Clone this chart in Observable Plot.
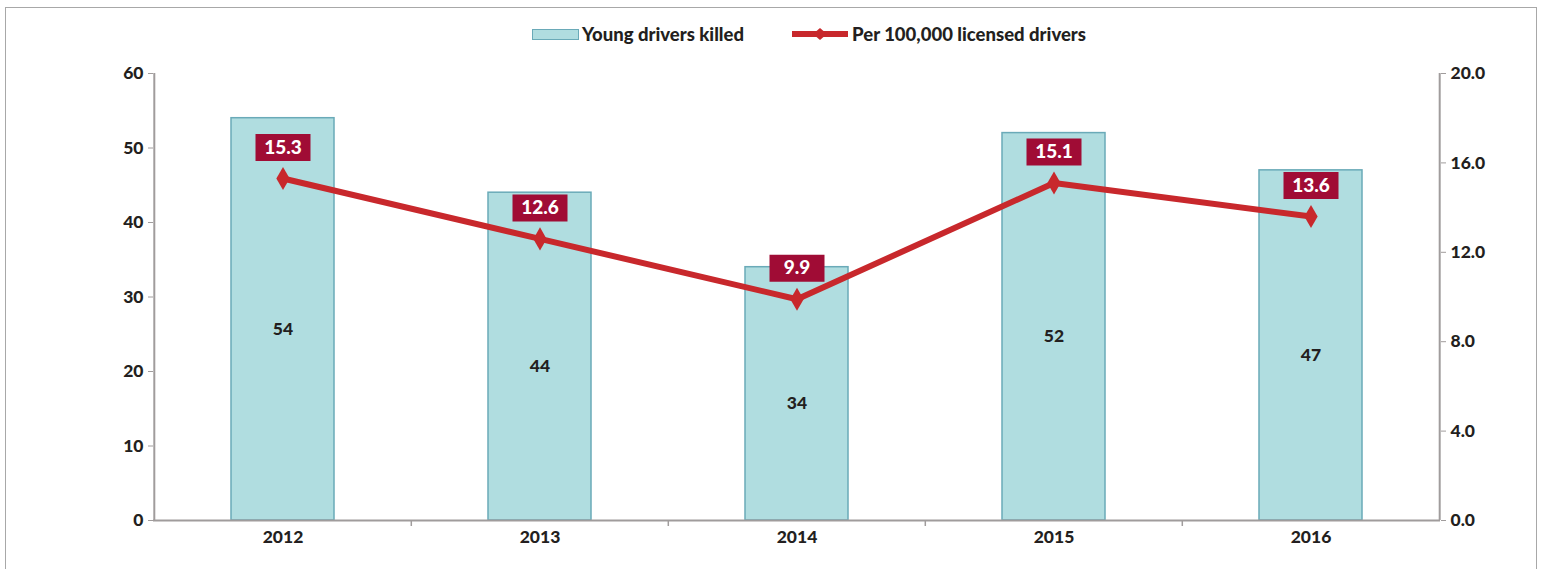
<!DOCTYPE html>
<html>
<head>
<meta charset="utf-8">
<script src="https://cdn.jsdelivr.net/npm/d3@7"></script>
<script src="https://cdn.jsdelivr.net/npm/@observablehq/plot@0.6"></script>
<style>
  html, body { margin: 0; padding: 0; background: #fff; }
  body { width: 1543px; height: 569px; overflow: hidden; position: relative; font-family: Lato, "Open Sans", sans-serif; }
  #frame { position: absolute; left: 5px; top: 7px; width: 1532px; height: 600px; border: 1.5px solid #a8a8a8; box-sizing: border-box; pointer-events: none; z-index: 5; }
  #legend { height: 53px; display: flex; justify-content: center; align-items: flex-start; padding-left: 75px; box-sizing: border-box; font-weight: 900; font-size: 18.5px; color: #231f20; }
  .item { display: flex; align-items: center; margin-top: 23px; }
  .sw-bar { width: 45px; height: 9px; background: #b0dde0; border: 1.5px solid #6aaab8; margin-right: 3px; }
  .item + .item { margin-left: 48px; }
  #chart svg { display: block; overflow: visible; background: transparent; }
</style>
</head>
<body>
<div id="frame"></div>
<div id="legend">
  <div class="item"><span class="sw-bar"></span><span>Young drivers killed</span></div>
  <div class="item">
    <svg width="56" height="14" style="margin-right:4px">
      <line x1="0" y1="7" x2="56" y2="7" stroke="#c8282c" stroke-width="6"/>
      <path d="M28,1 L35,7 L28,13 L21,7 Z" fill="#c8282c"/>
    </svg>
    <span>Per 100,000 licensed drivers</span>
  </div>
</div>
<div id="chart"></div>
<script>
const years = ["2012", "2013", "2014", "2015", "2016"];
const killed = [54, 44, 34, 52, 47];
const rate = [15.3, 12.6, 9.9, 15.1, 13.6];
const leftTicks = [0, 10, 20, 30, 40, 50, 60];
const rightTicks = [0, 4, 8, 12, 16, 20];

const scaleFactor = 60 / 20; // right axis 0-20 mapped onto left 0-60
const data = years.map((y, i) => ({year: y, killed: killed[i], rate: rate[i], rateY: rate[i] * scaleFactor}));

const W = 1543, ML = 153, MR = 103;
const halfBand = (W - ML - MR) / years.length / 2;

const boxSymbol = { draw(ctx) { ctx.moveTo(-27.5, -13.5); ctx.lineTo(27.5, -13.5); ctx.lineTo(27.5, 13.5); ctx.lineTo(-27.5, 13.5); ctx.closePath(); } };

const font = "Lato, 'Open Sans', sans-serif";
const ink = "#231f20";
const axisGray = "#a09c9c";

const chart = Plot.plot({
  width: W,
  height: 516,
  marginLeft: ML,
  marginRight: MR,
  marginTop: 20,
  marginBottom: 49,
  style: { fontFamily: font, fontSize: "17px", fontWeight: 900, color: ink, background: "transparent", overflow: "visible" },
  x: { type: "band", domain: years, padding: 0, label: null },
  y: { domain: [0, 60], label: null },
  marks: [
    Plot.barY(data, { x: "year", y: "killed", fill: "#b0dde0", stroke: "#6aaab8", strokeWidth: 1.5, insetLeft: 77, insetRight: 77 }),
    Plot.axisY(leftTicks, { anchor: "left", tickSize: 5, tickPadding: 5, stroke: axisGray, fontSize: 17.5, fontWeight: 900, fill: ink, label: null }),
    Plot.axisY(rightTicks.map(v => v * scaleFactor), { anchor: "right", tickSize: 5, tickPadding: 5, stroke: axisGray, fontSize: 17.5, fontWeight: 900, fill: ink, tickFormat: v => (v / scaleFactor).toFixed(1), label: null }),
    Plot.axisX(years, { anchor: "bottom", tickSize: 0, tickPadding: 10, fontSize: 17.5, fontWeight: 900, fill: ink, label: null }),
    Plot.ruleX([years[0]], { x: d => d, y1: 0, y2: 60, stroke: axisGray, strokeWidth: 2, dx: -halfBand }),
    Plot.ruleX([years[years.length - 1]], { x: d => d, y1: 0, y2: 60, stroke: axisGray, strokeWidth: 2, dx: halfBand }),
    Plot.ruleX(years.slice(1), { x: d => d, y1: 0, y2: 0, insetBottom: -6, stroke: axisGray, strokeWidth: 1.5, dx: -halfBand }),
    Plot.ruleY([0], { stroke: axisGray, strokeWidth: 2 }),
    Plot.text(data, { x: "year", y: d => d.killed / 2, text: d => String(d.killed), dy: 10, fontSize: 17.5, fontWeight: 900, fill: ink }),
    Plot.line(data, { x: "year", y: "rateY", stroke: "#c8282c", strokeWidth: 6 }),
    Plot.dot(data, { x: "year", y: "rateY", symbol: "diamond", r: 7, fill: "#c8282c", stroke: "none" }),
    Plot.dot(data, { x: "year", y: "rateY", symbol: boxSymbol, r: 5, fill: "#a00c35", stroke: "none", dy: -31 }),
    Plot.text(data, { x: "year", y: "rateY", text: d => d.rate.toFixed(1), dy: -31, fontSize: 19, fontWeight: 900, fill: "#ffffff" })
  ]
});
document.getElementById("chart").appendChild(chart);
</script>
</body>
</html>
